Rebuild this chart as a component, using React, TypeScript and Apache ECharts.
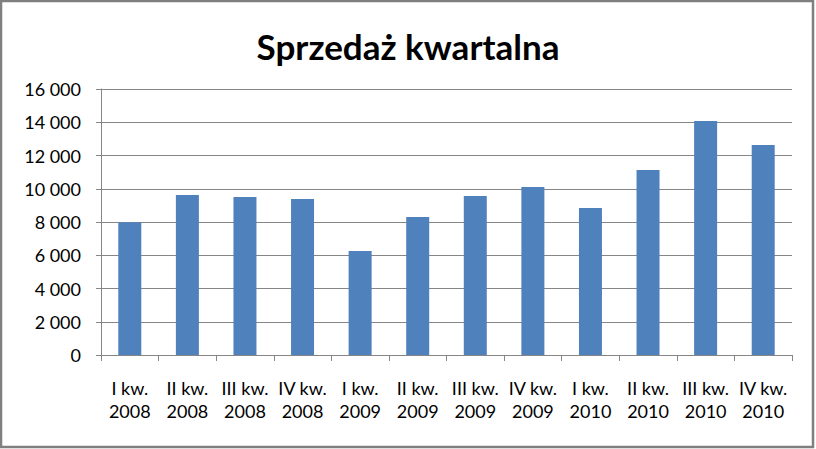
import React, { useEffect, useRef } from "react";
import * as echarts from "echarts";

const title = "Sprzedaż kwartalna";
const categories = [
  "I kw.\n2008", "II kw.\n2008", "III kw.\n2008", "IV kw.\n2008",
  "I kw.\n2009", "II kw.\n2009", "III kw.\n2009", "IV kw.\n2009",
  "I kw.\n2010", "II kw.\n2010", "III kw.\n2010", "IV kw.\n2010",
];
const sales = [7980, 9620, 9500, 9380, 6250, 8300, 9560, 10100, 8840, 11130, 14070, 12630];
const yMin = 0;
const yMax = 16000;
const yStep = 2000;

const FONT = "Lato, 'Open Sans', sans-serif";

export default function App() {
  const ref = useRef<HTMLDivElement>(null);
  useEffect(() => {
    if (!ref.current) return;
    const chart = echarts.init(ref.current, undefined, { renderer: "svg" });
    chart.setOption({
      animation: false,
      backgroundColor: "#ffffff",
      title: {
        text: title,
        left: "center",
        top: 23,
        textStyle: { fontFamily: FONT, fontSize: 35, fontWeight: "bold", color: "#000000" },
      },
      graphic: [
        {
          type: "rect",
          shape: { x: 1, y: 1, width: 812, height: 446 },
          style: { fill: "none", stroke: "#7f7f7f", lineWidth: 2.5 },
          silent: true,
        },
      ],
      grid: { left: 101, right: 24, top: 89, bottom: 94 },
      xAxis: {
        type: "category",
        data: categories,
        axisLine: { lineStyle: { color: "#868686", width: 1 } },
        axisTick: { show: true, length: 6, alignWithLabel: false, lineStyle: { color: "#868686" } },
        axisLabel: {
          interval: 0,
          margin: 21,
          fontFamily: FONT,
          fontSize: 18,
          lineHeight: 23,
          color: "#000000",
        },
        splitLine: { show: false },
      },
      yAxis: {
        type: "value",
        min: yMin,
        max: yMax,
        interval: yStep,
        axisLine: { show: true, lineStyle: { color: "#868686", width: 1 } },
        axisTick: { show: true, length: 5, lineStyle: { color: "#868686" } },
        axisLabel: {
          margin: 20,
          fontFamily: FONT,
          fontSize: 18,
          color: "#000000",
          formatter: (v: number) => {
            const s = String(Math.round(v));
            return s.replace(/\B(?=(\d{3})+(?!\d))/g, " ");
          },
        },
        splitLine: { show: true, lineStyle: { color: "#868686", width: 1 } },
      },
      series: [
        {
          type: "bar",
          data: sales,
          barWidth: 23,
          itemStyle: { color: "#4f81bd" },
        },
      ],
    });
    return () => chart.dispose();
  }, []);
  return <div ref={ref} style={{ width: 816, height: 449, position: "absolute", left: 0, top: 0 }} />;
}
